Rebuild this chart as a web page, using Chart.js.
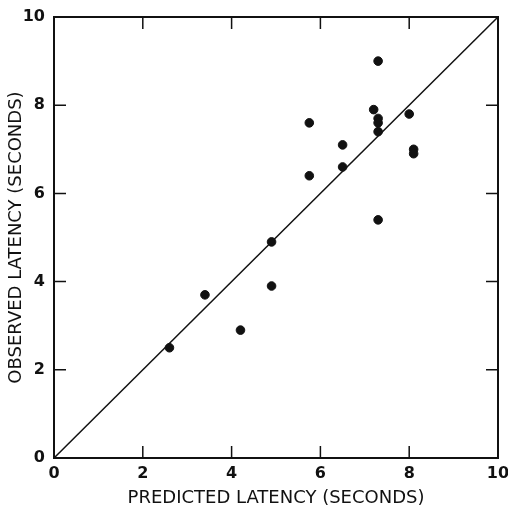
<!DOCTYPE html>
<html>
<head>
<meta charset="utf-8">
<script src="https://cdn.jsdelivr.net/npm/chart.js@4/dist/chart.umd.min.js"></script>
<style>
  body { margin: 0; background: #fff; }
  canvas { display: block; }
</style>
</head>
<body>
<canvas id="latency" width="508" height="509"></canvas>
<script>
'use strict';

// predicted vs observed latency, seconds
const predicted = [2.6, 3.4, 4.2, 4.9, 4.9, 5.75, 5.75, 6.5, 6.5, 7.3, 7.2, 7.3, 7.3, 7.3, 7.3, 8.0, 8.1, 8.1];
const observed  = [2.5, 3.7, 2.9, 3.9, 4.9, 6.4, 7.6, 7.1, 6.6, 9.0, 7.9, 7.7, 7.6, 7.4, 5.4, 7.8, 7.0, 6.9];
const diagonal  = [0, 10];
const tickValues = [0, 2, 4, 6, 8, 10];

const ink = '#111';
const tickFont = { family: 'DejaVu Sans', size: 16, weight: 'bold' };
const titleFont = { family: 'DejaVu Sans', size: 18 };

let points = [];
for (let i = 0; i < predicted.length; i++) {
  points.push({ x: predicted[i], y: observed[i] });
}

// inward tick marks on all four sides of the frame
const innerTicks = {
  id: 'innerTicks',
  afterDraw(chart) {
    const ctx = chart.ctx;
    const a = chart.chartArea;
    const xs = chart.scales.x, ys = chart.scales.y;
    const len = 12;
    ctx.save();
    ctx.strokeStyle = ink;
    ctx.lineWidth = 1.5;
    ctx.beginPath();
    tickValues.slice(1, -1).forEach(v => {
      let px = xs.getPixelForValue(v);
      ctx.moveTo(px, a.bottom); ctx.lineTo(px, a.bottom - len);
      ctx.moveTo(px, a.top); ctx.lineTo(px, a.top + len);
      let py = ys.getPixelForValue(v);
      ctx.moveTo(a.left, py); ctx.lineTo(a.left + len, py);
      ctx.moveTo(a.right, py); ctx.lineTo(a.right - len, py);
    });
    ctx.stroke();
    ctx.restore();
  }
};

new Chart(document.getElementById('latency'), {
  type: 'scatter',
  data: {
    datasets: [{
      data: points,
      backgroundColor: ink,
      borderColor: ink,
      pointRadius: 4.3,
      pointHoverRadius: 4.3
    }, {
      type: 'line',
      data: diagonal.map(v => ({ x: v, y: v })),
      borderColor: ink,
      borderWidth: 1.5,
      pointRadius: 0,
      fill: false
    }]
  },
  options: {
    responsive: false,
    animation: false,
    events: [],
    layout: { padding: { left: 0, top: 17, right: 0, bottom: 0 } },
    plugins: { legend: { display: false }, tooltip: { enabled: false } },
    scales: {
      x: {
        type: 'linear', min: 0, max: 10,
        afterBuildTicks: s => { s.ticks = tickValues.map(v => ({ value: v })); },
        afterFit: s => { s.height = 51; s.paddingLeft = 0; s.paddingRight = 0; },
        grid: { display: false, drawTicks: false },
        border: { display: true, color: ink, width: 2 },
        ticks: { color: ink, font: tickFont, padding: 6, maxRotation: 0 },
        title: { display: true, text: 'PREDICTED LATENCY (SECONDS)', color: ink, font: titleFont, padding: { top: 0, bottom: 0 } }
      },
      y: {
        type: 'linear', min: 0, max: 10,
        afterBuildTicks: s => { s.ticks = tickValues.map(v => ({ value: v })); },
        afterFit: s => { s.width = 54; s.paddingTop = 0; s.paddingBottom = 0; },
        grid: { display: false, drawTicks: false },
        border: { display: true, color: ink, width: 2 },
        ticks: { color: ink, font: tickFont, padding: 9 },
        title: { display: true, text: 'OBSERVED LATENCY (SECONDS)', color: ink, font: titleFont, padding: { top: 6, bottom: 0 } }
      },
      x2: {
        type: 'linear', position: 'top', min: 0, max: 10,
        afterFit: s => { s.height = 0; },
        grid: { display: false, drawTicks: false },
        border: { display: true, color: ink, width: 2 },
        ticks: { display: false }
      },
      y2: {
        type: 'linear', position: 'right', min: 0, max: 10,
        afterFit: s => { s.width = 10; },
        grid: { display: false, drawTicks: false },
        border: { display: true, color: ink, width: 2 },
        ticks: { display: false }
      }
    }
  },
  plugins: [innerTicks]
});
</script>
</body>
</html>
